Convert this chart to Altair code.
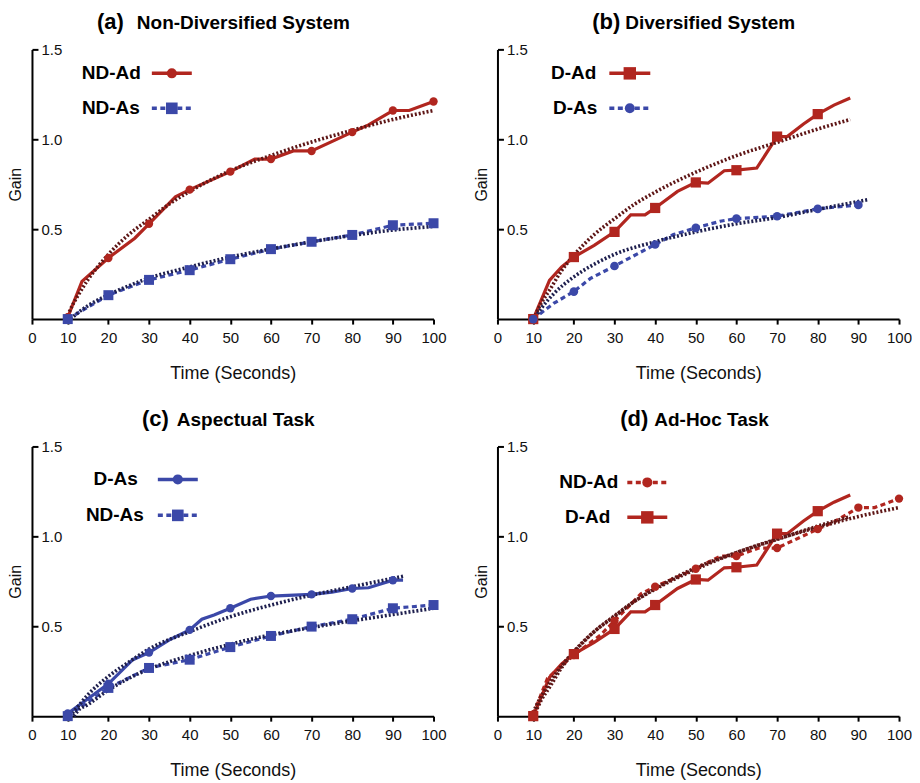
import altair as alt
import pandas as pd

FONT = "Liberation Sans"
RED = "#b1261f"
BLUE = "#3b48a8"
MAROON = "#5e1616"
NAVY = "#1e1f4e"

PANEL_TAGS = ["(a)", "(b)", "(c)", "(d)"]
PANEL_NAMES = ["Non-Diversified System", "Diversified System", "Aspectual Task", "Ad-Hoc Task"]
X_TICKS = [1.2, 10, 20, 30, 40, 50, 60, 70, 80, 90, 100]
Y_TICKS = [0.5, 1.0, 1.5]

# ND-Ad (panels a and d)
NDAD_X = [10, 13.5, 20, 26.5, 30, 36.5, 40, 50, 56, 60, 65.5, 70, 80, 84, 90, 94, 100]
NDAD_Y = [0.01, 0.21, 0.34, 0.45, 0.53, 0.68, 0.72, 0.82, 0.89, 0.89, 0.935, 0.935, 1.04, 1.08, 1.16, 1.16, 1.21]
NDAD_FIT_X = [10, 11, 12.5, 15, 17.5, 20, 25, 30, 35, 40, 50, 60, 70, 80, 90, 100]
NDAD_FIT_Y = [0.02, 0.07, 0.13, 0.22, 0.295, 0.36, 0.47, 0.555, 0.64, 0.71, 0.825, 0.91, 0.985, 1.05, 1.11, 1.16]

# ND-As (panel a)
A_NDAS_X = [10, 20, 30, 40, 50, 60, 70, 80, 90, 100]
A_NDAS_Y = [0.0, 0.133, 0.218, 0.272, 0.333, 0.389, 0.43, 0.468, 0.522, 0.533]
A_NDAS_FIT_X = [10.7, 12.5, 15, 20, 25, 30, 40, 50, 60, 70, 80, 90, 100]
A_NDAS_FIT_Y = [0.0, 0.035, 0.075, 0.135, 0.185, 0.228, 0.29, 0.345, 0.39, 0.43, 0.465, 0.495, 0.515]

# D-Ad (panels b and d)
DAD_X = [10, 14, 17, 20, 25, 30, 34, 37.5, 40, 45.5, 50, 53, 57, 60, 65, 70, 72.5, 76.5, 80, 84, 88]
DAD_Y = [0.0, 0.215, 0.29, 0.345, 0.41, 0.485, 0.58, 0.58, 0.618, 0.71, 0.76, 0.756, 0.825, 0.828, 0.84,
         1.015, 1.015, 1.085, 1.14, 1.19, 1.23]
DAD_FIT_X = [10.5, 12, 14, 17, 20, 25, 30, 35, 40, 50, 60, 70, 80, 88]
DAD_FIT_Y = [0.02, 0.09, 0.16, 0.27, 0.355, 0.47, 0.558, 0.64, 0.706, 0.817, 0.909, 0.983, 1.057, 1.11]

# D-As (panel b)
B_DAS_X = [10, 15, 20, 24, 30, 40, 44.5, 50, 56, 60, 70, 80, 90]
B_DAS_Y = [0.0, 0.087, 0.153, 0.225, 0.295, 0.415, 0.47, 0.507, 0.544, 0.559, 0.572, 0.613, 0.635]
B_DAS_FIT_X = [10.5, 12, 15, 20, 25, 30, 40, 50, 60, 70, 80, 92.5]
B_DAS_FIT_Y = [0.01, 0.06, 0.14, 0.235, 0.305, 0.36, 0.43, 0.485, 0.53, 0.565, 0.61, 0.665]

# D-As (panel c)
C_DAS_X = [10, 20, 26, 30, 35, 40, 43, 46, 50, 55, 60, 70, 75, 80, 84, 90, 92.5]
C_DAS_Y = [0.015, 0.18, 0.314, 0.354, 0.424, 0.48, 0.539, 0.563, 0.6, 0.65, 0.668, 0.677, 0.69, 0.71, 0.714,
           0.756, 0.756]
C_DAS_FIT_X = [10.5, 12, 15, 20, 25, 30, 40, 50, 60, 70, 80, 92.5]
C_DAS_FIT_Y = [0.0, 0.04, 0.12, 0.221, 0.30, 0.373, 0.47, 0.553, 0.618, 0.673, 0.72, 0.778]

# ND-As (panel c)
C_NDAS_X = [10, 20, 30, 40, 50, 60, 70, 80, 90, 100]
C_NDAS_Y = [0.0, 0.157, 0.268, 0.314, 0.384, 0.446, 0.498, 0.539, 0.6, 0.618]
C_NDAS_FIT_X = [11.5, 12.5, 15, 20, 25, 30, 40, 50, 60, 70, 80, 90, 100]
C_NDAS_FIT_Y = [0.0, 0.03, 0.065, 0.145, 0.21, 0.262, 0.337, 0.40, 0.452, 0.493, 0.53, 0.565, 0.6]

W, H = 402, 270
DASH = [5, 3.5]
DOT = [2, 2]

X = alt.X(
    "x:Q",
    scale=alt.Scale(domain=[1.2, 100], nice=False, zero=False),
    axis=alt.Axis(
        values=X_TICKS, format="d", labelExpr="datum.value < 5 ? '0' : datum.label",
        title="Time (Seconds)", grid=False,
        domainColor="black", domainWidth=2, tickColor="black", tickWidth=2, tickSize=5,
        labelFont=FONT, labelFontSize=15, labelColor="#111", labelPadding=6, labelFlush=False,
        titleFont=FONT, titleFontSize=18, titleFontWeight="normal", titleColor="#111",
        titleX=W / 2, titleY=59, titleBaseline="alphabetic", titleAlign="center",
    ),
)
Y = alt.Y(
    "y:Q",
    scale=alt.Scale(domain=[0, 1.5], nice=False),
    axis=alt.Axis(
        values=Y_TICKS, format=".1f", title="Gain", grid=False,
        domainColor="black", domainWidth=2, tickColor="black", tickWidth=2,
        tickSize={"expr": "-6"},
        labelAlign="left", labelBaseline="middle", labelPadding=-3,
        labelFont=FONT, labelFontSize=15, labelColor="#111", labelFlush=False,
        titleFont=FONT, titleFontSize=16, titleFontWeight="normal", titleColor="#111",
        titleAngle=270, titleX=-11, titleY=H / 2, titleAlign="center", titleBaseline="alphabetic",
    ),
)


def series(xv, yv, color, dashed, shape, msize):
    df = pd.DataFrame({"x": xv, "y": yv})
    kw = {"strokeDash": DASH} if dashed else {}
    line = alt.Chart(df).mark_line(color=color, strokeWidth=3.2, **kw).encode(x=X, y=Y)
    mk = df[(df["x"] % 10) == 0]
    pts = alt.Chart(mk).mark_point(filled=True, shape=shape, size=msize, color=color,
                                   opacity=1).encode(x=X, y=Y)
    return line, pts


def fit(xv, yv, color):
    df = pd.DataFrame({"x": xv, "y": yv})
    return alt.Chart(df).mark_line(color=color, strokeWidth=3.6, strokeDash=DOT,
                                   interpolate="monotone").encode(x=X, y=Y)


def legend_entry(label, yrow, lx, x0, x1, color, dashed, shape, msize):
    d = alt.Chart(pd.DataFrame({"label": [label]}))
    kw = {"strokeDash": DASH} if dashed else {}
    txt = d.mark_text(align="right", baseline="middle", font=FONT, fontSize=19,
                      fontWeight="bold", color="black").encode(
        x=alt.value(lx), y=alt.value(yrow), text="label:N")
    rule = d.mark_rule(color=color, strokeWidth=3.5, **kw).encode(
        x=alt.value(x0), x2=alt.value(x1), y=alt.value(yrow))
    pt = d.mark_point(filled=True, shape=shape, size=msize, color=color, opacity=1).encode(
        x=alt.value((x0 + x1) / 2), y=alt.value(yrow))
    return [rule, pt, txt]


def title(i, tag_right, name_left):
    d = alt.Chart(pd.DataFrame({"tag": [PANEL_TAGS[i]], "name": [PANEL_NAMES[i]]}))
    t1 = d.mark_text(align="right", baseline="alphabetic", font=FONT, fontSize=22,
                     fontWeight="bold", color="black").encode(
        x=alt.value(tag_right), y=alt.value(-20), text="tag:N")
    t2 = d.mark_text(align="left", baseline="alphabetic", font=FONT, fontSize=19,
                     fontWeight="bold", color="black").encode(
        x=alt.value(name_left), y=alt.value(-20), text="name:N")
    return [t1, t2]


# Panel (a)
l1, p1 = series(NDAD_X, NDAD_Y, RED, False, "circle", 70)
l2, p2 = series(A_NDAS_X, A_NDAS_Y, BLUE, True, "square", 100)
pa = alt.layer(
    l1, l2, fit(NDAD_FIT_X, NDAD_FIT_Y, MAROON), fit(A_NDAS_FIT_X, A_NDAS_FIT_Y, NAVY), p1, p2,
    *legend_entry("ND-Ad", 24, 109, 120, 160, RED, False, "circle", 100),
    *legend_entry("ND-As", 59, 108, 120, 160, BLUE, True, "square", 135),
    *title(0, 92, 105),
).properties(width=W, height=H)

# Panel (b)
l1, p1 = series(DAD_X, DAD_Y, RED, False, "square", 105)
l2, p2 = series(B_DAS_X, B_DAS_Y, BLUE, True, "circle", 75)
pb = alt.layer(
    l1, l2, fit(DAD_FIT_X, DAD_FIT_Y, MAROON), fit(B_DAS_FIT_X, B_DAS_FIT_Y, NAVY), p1, p2,
    *legend_entry("D-Ad", 24, 99, 112, 153, RED, False, "square", 155),
    *legend_entry("D-As", 59, 100, 112, 153, BLUE, True, "circle", 100),
    *title(1, 123, 128),
).properties(width=W, height=H)

# Panel (c)
l1, p1 = series(C_DAS_X, C_DAS_Y, BLUE, False, "circle", 70)
l2, p2 = series(C_NDAS_X, C_NDAS_Y, BLUE, True, "square", 100)
pc = alt.layer(
    l1, l2, fit(C_DAS_FIT_X, C_DAS_FIT_Y, NAVY), fit(C_NDAS_FIT_X, C_NDAS_FIT_Y, NAVY), p1, p2,
    *legend_entry("D-As", 33, 106, 126, 166, BLUE, False, "circle", 100),
    *legend_entry("ND-As", 69, 112, 126, 166, BLUE, True, "square", 135),
    *title(2, 137, 145),
).properties(width=W, height=H)

# Panel (d)
l1, p1 = series(NDAD_X, NDAD_Y, RED, True, "circle", 70)
l2, p2 = series(DAD_X, DAD_Y, RED, False, "square", 105)
pd_ = alt.layer(
    l1, l2, fit(NDAD_FIT_X, NDAD_FIT_Y, MAROON), fit(DAD_FIT_X, DAD_FIT_Y, MAROON), p1, p2,
    *legend_entry("ND-Ad", 36, 121, 130, 170, RED, True, "circle", 100),
    *legend_entry("D-Ad", 71, 113, 130, 170, RED, False, "square", 155),
    *title(3, 151, 157),
).properties(width=W, height=H)

chart = alt.concat(
    pa, pb, pc, pd_, columns=2, spacing={"row": 127.5, "column": 64}, bounds="flush"
).properties(
    padding={"top": 3, "left": 0, "right": 0, "bottom": 0}, background="white"
).configure_view(stroke=None)

chart.save("out.html", embed_options={"renderer": "svg", "actions": False})
